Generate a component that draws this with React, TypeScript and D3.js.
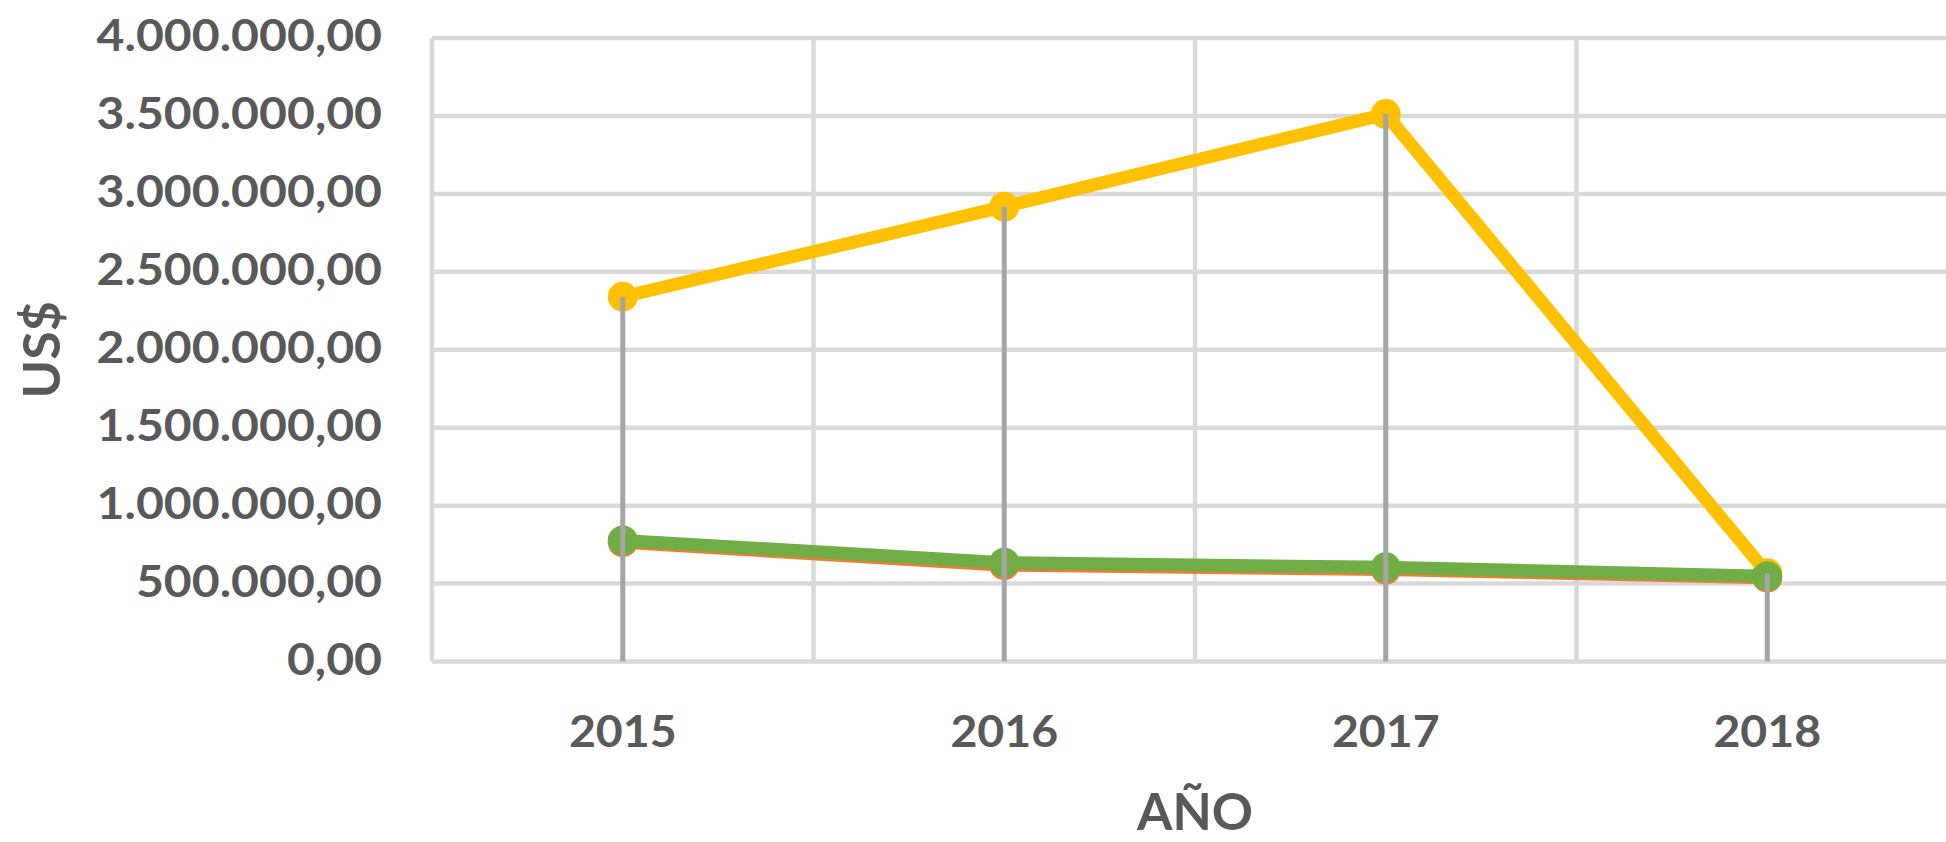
import * as d3 from 'd3';
import { useEffect, useRef } from 'react';

// categories and series values (US$)
const years = ['2015', '2016', '2017', '2018'];
const orangeValues = [765000, 618000, 590000, 538000];
const yellowValues = [2340000, 2918000, 3512000, 566000];
const greenValues = [777000, 634000, 604000, 547000];
const yTicks = [0, 500000, 1000000, 1500000, 2000000, 2500000, 3000000, 3500000, 4000000];

export default function App() {
  const ref = useRef<SVGSVGElement>(null);

  useEffect(() => {
    const width = 1946;
    const height = 842;
    const margin = { top: 38, left: 432, bottom: 180.5 };
    const plotRight = 1958; // plot area runs past the picture's right edge

    const svg = d3.select(ref.current);
    svg.selectAll('*').remove();
    svg.attr('width', width).attr('height', height);

    const x = d3.scaleBand().domain(years).range([margin.left, plotRight]);
    const y = d3.scaleLinear().domain([0, 4000000]).range([height - margin.bottom, margin.top]);

    const locale = d3.formatLocale({ decimal: ',', thousands: '.', grouping: [3], currency: ['', ''] });
    const fmt = locale.format(',.2f');

    const textColor = '#595959';
    const font = 'Lato, "Open Sans", sans-serif';

    // gridlines
    const grid = svg.append('g').attr('stroke', '#d9d9d9').attr('stroke-width', 4.5);
    grid.selectAll('line.h')
      .data(yTicks)
      .enter()
      .append('line')
      .attr('x1', margin.left)
      .attr('x2', plotRight)
      .attr('y1', d => y(d))
      .attr('y2', d => y(d));
    const bounds = years.map(d => x(d)!).concat([plotRight]);
    grid.selectAll('line.v')
      .data(bounds)
      .enter()
      .append('line')
      .attr('x1', d => d)
      .attr('x2', d => d)
      .attr('y1', y(0))
      .attr('y2', y(4000000));

    // y labels
    svg.append('g')
      .selectAll('text')
      .data(yTicks)
      .enter()
      .append('text')
      .attr('transform', d => `translate(382,${y(d) + 13}) scale(1.12,1)`)
      .attr('text-anchor', 'end')
      .attr('fill', textColor)
      .attr('font-family', font)
      .attr('font-weight', 700)
      .attr('font-size', 43)
      .text(d => fmt(d));

    // x labels
    svg.append('g')
      .selectAll('text')
      .data(years)
      .enter()
      .append('text')
      .attr('transform', d => `translate(${x(d)! + x.bandwidth() / 2},747) scale(1.08,1)`)
      .attr('text-anchor', 'middle')
      .attr('fill', textColor)
      .attr('font-family', font)
      .attr('font-weight', 700)
      .attr('font-size', 43)
      .text(d => d);

    // axis titles
    svg.append('text')
      .attr('x', (margin.left + plotRight) / 2)
      .attr('y', 830)
      .attr('text-anchor', 'middle')
      .attr('fill', textColor)
      .attr('font-family', font)
      .attr('font-weight', 700)
      .attr('font-size', 51)
      .text('AÑO');

    svg.append('text')
      .attr('transform', `translate(60,${(y(0) + y(4000000)) / 2}) rotate(-90)`)
      .attr('text-anchor', 'middle')
      .attr('fill', textColor)
      .attr('font-family', font)
      .attr('font-weight', 700)
      .attr('font-size', 52)
      .text('US$');

    const cx = (d: string) => x(d)! + x.bandwidth() / 2;
    const line = d3.line<number>()
      .x((d, i) => cx(years[i]))
      .y(d => y(d));

    const series = [
      { values: orangeValues, color: '#ed7d31' },
      { values: yellowValues, color: '#ffc000' },
      { values: greenValues, color: '#70ad47' },
    ];

    series.forEach(s => {
      const g = svg.append('g');
      g.append('path')
        .attr('d', line(s.values))
        .attr('fill', 'none')
        .attr('stroke', s.color)
        .attr('stroke-width', 13)
        .attr('stroke-linejoin', 'round')
        .attr('stroke-linecap', 'round');
      g.selectAll('circle')
        .data(s.values)
        .enter()
        .append('circle')
        .attr('cx', (d, i) => cx(years[i]))
        .attr('cy', d => y(d))
        .attr('r', 15)
        .attr('fill', s.color);
    });

    // drop lines from the highest point of each year
    svg.append('g')
      .selectAll('line')
      .data(years)
      .enter()
      .append('line')
      .attr('x1', d => cx(d))
      .attr('x2', d => cx(d))
      .attr('y1', (d, i) => y(Math.max(orangeValues[i], yellowValues[i], greenValues[i])))
      .attr('y2', y(0))
      .attr('stroke', '#a5a5a5')
      .attr('stroke-width', 5);
  }, []);

  return (
    <svg
      ref={ref}
      style={{ position: 'fixed', left: 0, top: 0, background: '#fff' }}
    />
  );
}
